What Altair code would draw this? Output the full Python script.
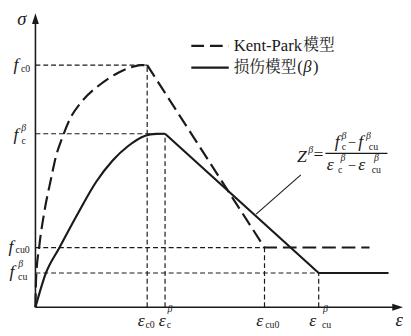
import altair as alt
import pandas as pd

# ---- key values (strain in permille, stress in MPa) ----
eps_c0 = 2.0
eps_cb = 2.32
eps_cu0 = 4.10
eps_cub = 5.07
eps_kp_end = 5.98
eps_dm_end = 6.32
f_c0 = 30.0
f_cb = 21.5
f_cu0 = 7.4
f_cub = 4.25

# Kent-Park curve (dashed): ascending branch, then descent and plateau
kp_rise_eps = [0, 0.012, 0.07, 0.158, 0.275, 0.363, 0.479, 0.626, 0.83, 1.153, 1.474, 1.72, 1.88, 2.0]
kp_rise_sig = [0, 3.64, 7.65, 11.78, 15.79, 18.58, 21.0, 23.44, 25.5, 27.57, 29.03, 29.75, 30.0, 30.0]
kp_tail_eps = [2.0, 4.10, 5.98]
kp_tail_sig = [30.0, 7.4, 7.4]
# damage model curve (solid)
dm_rise_eps = [0, 0.188, 0.421, 0.772, 1.088, 1.386, 1.649, 1.965, 2.16, 2.32]
dm_rise_sig = [0, 4.25, 7.29, 11.78, 15.55, 18.22, 19.92, 21.26, 21.48, 21.5]
dm_tail_eps = [2.32, 5.07, 6.32]
dm_tail_sig = [21.5, 4.25, 4.25]

# axes extents
x_tip = 6.58
y_tip = 36.44

# annotation leader line
lead_eps = [3.95, 4.75]
lead_sig = [11.54, 16.4]
# fraction bar
bar_eps = [5.19, 6.30]
bar_sig = 19.07

# legend
leg_eps = [2.79, 3.46]
leg_sig = [32.4, 29.7]

INK = "#1a1a1a"
SERIF = "'Liberation Serif', Tinos, 'Times New Roman', 'DejaVu Serif', serif"
CJK = "'Noto Serif CJK SC', 'Noto Sans CJK SC', sans-serif"

xs = alt.Scale(domain=[-28 / 57, 375 / 57], nice=False, zero=False)
ys = alt.Scale(domain=[-26 / 8.2333, 302 / 8.2333], nice=False, zero=False)
X = alt.X("x:Q", scale=xs, axis=None)
Y = alt.Y("y:Q", scale=ys, axis=None)
X2 = alt.X2("x2:Q")
Y2 = alt.Y2("y2:Q")

layers = []


def poly(xv, yv, dash=None, width=2.2, interp="linear"):
    df = pd.DataFrame({"x": xv, "y": yv, "o": list(range(len(xv)))})
    kw = dict(strokeWidth=width, color=INK, strokeCap="butt", strokeJoin="round", interpolate=interp)
    if dash:
        kw["strokeDash"] = dash
    return alt.Chart(df).mark_line(**kw).encode(x=X, y=Y, order="o:Q")


def seg(x1, y1, x2, y2, dash=None, width=1.2):
    df = pd.DataFrame({"x": [x1], "y": [y1], "x2": [x2], "y2": [y2]})
    kw = dict(strokeWidth=width, color=INK)
    if dash:
        kw["strokeDash"] = dash
    return alt.Chart(df).mark_rule(**kw).encode(x=X, y=Y, x2=X2, y2=Y2)


def txt(x, y, s, dx=0, dy=0, size=17, italic=False, align="center", font=SERIF):
    df = pd.DataFrame({"x": [x], "y": [y], "t": [s]})
    return alt.Chart(df).mark_text(
        dx=dx, dy=dy, fontSize=size, fontStyle="italic" if italic else "normal",
        align=align, baseline="middle", font=font, color=INK
    ).encode(x=X, y=Y, text="t:N")


GD = [5, 3]
# guide lines
layers += [
    seg(0, f_c0, eps_c0, f_c0, GD), seg(eps_c0, 0, eps_c0, f_c0, GD),
    seg(0, f_cb, eps_cb, f_cb, GD), seg(eps_cb, 0, eps_cb, f_cb, GD),
    seg(0, f_cu0, eps_cu0, f_cu0, GD), seg(eps_cu0, 0, eps_cu0, f_cu0, GD),
    seg(0, f_cub, eps_cub, f_cub, GD), seg(eps_cub, 0, eps_cub, f_cub, GD),
]
# axes
layers += [seg(0, 0, 0, y_tip - 1.0, width=1.6), seg(0, 0, x_tip - 0.15, 0, width=1.6)]
arrows = pd.DataFrame({"x": [0], "y": [y_tip]})
layers.append(alt.Chart(arrows).mark_point(
    shape="M0,0L0.32,1L-0.32,1Z", size=484, filled=True, color=INK, opacity=1, strokeWidth=0
).encode(x=X, y=Y))
arrows2 = pd.DataFrame({"x": [x_tip], "y": [0]})
layers.append(alt.Chart(arrows2).mark_point(
    shape="M0,0L-1,-0.32L-1,0.32Z", size=484, filled=True, color=INK, opacity=1, strokeWidth=0
).encode(x=X, y=Y))

# curves
layers.append(poly(kp_rise_eps, kp_rise_sig, dash=[14, 6], interp="monotone"))
layers.append(poly(kp_tail_eps, kp_tail_sig, dash=[14, 6]))
layers.append(poly(dm_rise_eps, dm_rise_sig, interp="monotone"))
layers.append(poly(dm_tail_eps, dm_tail_sig))

# leader + fraction bar
layers.append(seg(lead_eps[0], lead_sig[0], lead_eps[1], lead_sig[1], width=1.1))
layers.append(seg(bar_eps[0], bar_sig, bar_eps[1], bar_sig, width=1.1))

# legend
layers.append(seg(leg_eps[0], leg_sig[0], leg_eps[1], leg_sig[0], dash=[13, 6], width=2.2))
layers.append(seg(leg_eps[0], leg_sig[1], leg_eps[1], leg_sig[1], width=2.2))
layers.append(txt(leg_eps[1], leg_sig[0], "Kent-Park", dx=5, size=17, align="left"))
layers.append(txt(leg_eps[1], leg_sig[0], "模型", dx=76, dy=-1, size=16, align="left", font=CJK))
layers.append(txt(leg_eps[1], leg_sig[1], "损伤模型", dx=5, dy=-1, size=16, align="left", font=CJK))
layers.append(txt(leg_eps[1], leg_sig[1], "(", dx=70, size=17, align="left"))
layers.append(txt(leg_eps[1], leg_sig[1], "β", dx=76, size=17, italic=True, align="left"))
layers.append(txt(leg_eps[1], leg_sig[1], ")", dx=86, size=17, align="left"))

# axis titles
layers.append(txt(0, y_tip, "σ", dx=-14, dy=6, size=19, italic=True))
layers.append(txt(x_tip, 0, "ε", dx=-4, dy=13, size=19, italic=True))

# y labels
layers += [
    txt(0, f_c0, "f", dx=-20, size=18, italic=True), txt(0, f_c0, "c0", dx=-10, dy=4, size=10),
    txt(0, f_cb, "f", dx=-20, dy=1, size=18, italic=True), txt(0, f_cb, "β", dx=-12, dy=-6, size=10, italic=True),
    txt(0, f_cb, "c", dx=-12, dy=7, size=10),
    txt(0, f_cu0, "f", dx=-25, size=18, italic=True), txt(0, f_cu0, "cu0", dx=-13, dy=3, size=10),
    txt(0, f_cub, "f", dx=-24, dy=-1, size=18, italic=True), txt(0, f_cub, "β", dx=-15, dy=-9, size=10, italic=True),
    txt(0, f_cub, "cu", dx=-13, dy=4, size=10),
]
# x labels
layers += [
    txt(eps_c0, 0, "ε", dx=-6, dy=14, size=18, italic=True), txt(eps_c0, 0, "c0", dx=3, dy=18, size=10),
    txt(eps_cb, 0, "ε", dx=-3, dy=14, size=18, italic=True), txt(eps_cb, 0, "β", dx=5, dy=2, size=10, italic=True),
    txt(eps_cb, 0, "c", dx=4, dy=18, size=10),
    txt(eps_cu0, 0, "ε", dx=-5, dy=14, size=18, italic=True), txt(eps_cu0, 0, "cu0", dx=8, dy=18, size=10),
    txt(eps_cub, 0, "ε", dx=-6, dy=14, size=18, italic=True), txt(eps_cub, 0, "β", dx=7, dy=2, size=10, italic=True),
    txt(eps_cub, 0, "cu", dx=8, dy=18, size=10),
]
# formula (anchored at left end of fraction bar)
bx, by = bar_eps[0], bar_sig
layers += [
    txt(bx, by, "Z", dx=-24, dy=4, size=18, italic=True), txt(bx, by, "β", dx=-15, dy=-3, size=10, italic=True),
    txt(bx, by, "=", dx=-7, dy=2, size=18),
    txt(bx, by, "f", dx=12, dy=-11, size=18, italic=True), txt(bx, by, "β", dx=19, dy=-18, size=10, italic=True),
    txt(bx, by, "c", dx=19, dy=-6, size=10),
    txt(bx, by, "−", dx=27, dy=-11, size=15),
    txt(bx, by, "f", dx=36, dy=-11, size=18, italic=True), txt(bx, by, "β", dx=44, dy=-18, size=10, italic=True),
    txt(bx, by, "cu", dx=49, dy=-6, size=10),
    txt(bx, by, "ε", dx=5, dy=12, size=18, italic=True), txt(bx, by, "β", dx=18, dy=5, size=10, italic=True),
    txt(bx, by, "c", dx=15, dy=17, size=10),
    txt(bx, by, "−", dx=27, dy=12, size=15),
    txt(bx, by, "ε", dx=37, dy=12, size=18, italic=True), txt(bx, by, "β", dx=52, dy=5, size=10, italic=True),
    txt(bx, by, "cu", dx=52, dy=17, size=10),
]

chart = alt.layer(*layers).properties(
    width=403, height=328, padding=0, autosize="none", background="white"
).configure_view(stroke=None)

chart.save("out.html", embed_options={"renderer": "svg", "actions": False})
